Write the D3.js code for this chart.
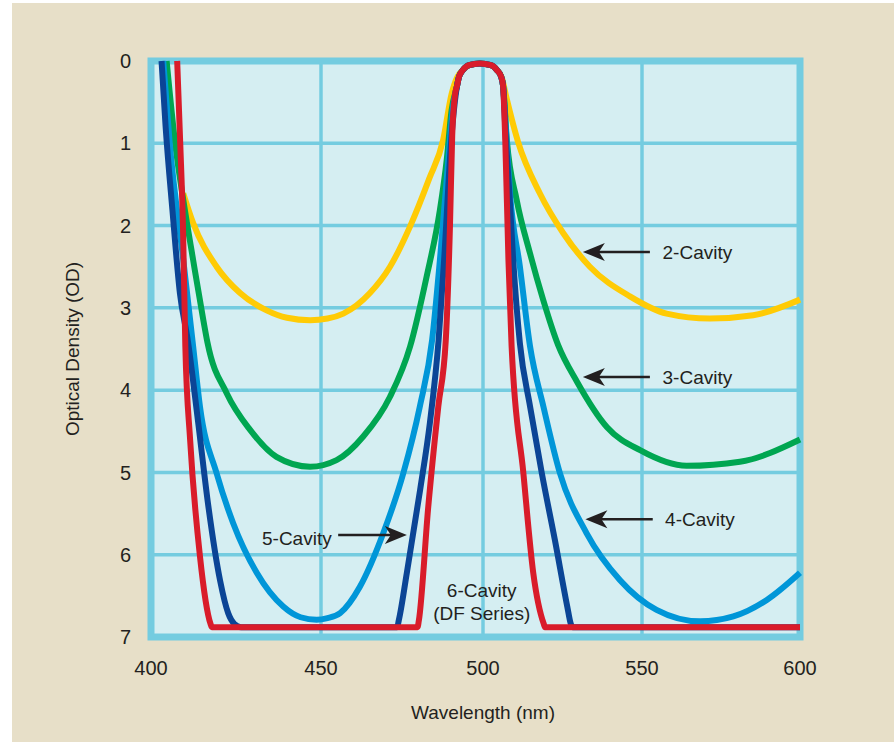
<!DOCTYPE html>
<html>
<head>
<meta charset="utf-8">
<script src="https://cdn.jsdelivr.net/npm/d3@7"></script>
<style>
  body { margin: 0; background: #fff; }
  svg { display: block; }
  text { font-family: "Liberation Sans", Arial, sans-serif; fill: #231f20; }
</style>
</head>
<body>
<div id="chart"></div>
<script>
var width = 894,
    height = 742;

// axis ticks
var xTicks = [400, 450, 500, 550, 600];
var yTicks = [0, 1, 2, 3, 4, 5, 6, 7];

// 2-cavity (yellow)
var cav2Nm = [409.5, 412.4, 419.3, 426.2, 434, 440, 446.8, 452, 456.9, 465.1, 471.3, 477.5, 483.4, 487.7, 490.3, 492.0, 493.8, 495.7, 499, 502.5, 504.4, 505.9, 507.4, 511, 517.9, 525.2, 533.6, 546.2, 557.8, 571.5, 585.2, 600];
var cav2Od = [1.61, 1.97, 2.5, 2.82, 3.03, 3.12, 3.15, 3.13, 3.07, 2.82, 2.5, 2.01, 1.43, 0.96, 0.4, 0.2, 0.11, 0.05, 0.03, 0.05, 0.11, 0.2, 0.45, 0.98, 1.61, 2.09, 2.5, 2.86, 3.07, 3.13, 3.09, 2.9];

// 3-cavity (green)
var cav3Nm = [404.6, 407.1, 409.5, 412.4, 415.4, 416.6, 422.3, 429.1, 436.9, 446.8, 454.8, 463.1, 471.3, 477.5, 482.6, 486.7, 488.8, 490.3, 492.0, 492.6, 493.8, 495.7, 499, 502.5, 504.4, 505.7, 506.3, 507.5, 510.6, 514.8, 518.9, 523.6, 529.6, 539.0, 549.4, 564.1, 581, 600];
var cav3Od = [0, 1.0, 1.69, 2.42, 3.15, 3.42, 4.04, 4.48, 4.81, 4.93, 4.85, 4.56, 4.08, 3.47, 2.62, 1.81, 1.2, 0.6, 0.3, 0.19, 0.11, 0.05, 0.03, 0.05, 0.11, 0.19, 0.3, 0.96, 1.69, 2.34, 2.9, 3.45, 3.9, 4.45, 4.73, 4.92, 4.87, 4.6];

// 4-cavity (light blue)
var cav4Nm = [403.6, 405.5, 409.5, 412.4, 414.4, 419.3, 424.2, 431.1, 438.9, 444, 448.7, 452, 455.9, 462, 469.2, 475.4, 480.5, 484.3, 486.7, 489.3, 490.6, 492.0, 492.6, 493.8, 495.7, 499, 502.5, 504.4, 505.7, 506.3, 507.4, 508.5, 511.6, 514.8, 519, 524.2, 532.6, 543.1, 554.6, 568.4, 578.9, 589.5, 600];
var cav4Od = [0, 1.0, 2.42, 3.47, 4.2, 5.01, 5.62, 6.22, 6.63, 6.76, 6.79, 6.77, 6.71, 6.39, 5.74, 5.01, 4.2, 3.39, 2.42, 1.2, 0.6, 0.3, 0.19, 0.11, 0.05, 0.03, 0.05, 0.11, 0.19, 0.3, 0.96, 1.61, 2.5, 3.47, 4.2, 5.01, 5.74, 6.31, 6.67, 6.81, 6.75, 6.55, 6.22];

// 5-cavity (dark blue)
var cav5Nm = [403.1, 404.3, 406.3, 408.5, 410.8, 413.9, 416.9, 420.3, 422.7, 424.5, 426.5, 428, 473.5, 474, 476.5, 480.6, 483.6, 486.3, 488, 490.2, 492.0, 492.6, 493.8, 495.7, 499, 502.5, 504.4, 505.7, 506.3, 507.2, 508.3, 509.5, 511.6, 514.8, 518.5, 522.6, 526.5, 527.6, 528.2, 600];
var cav5Od = [0, 0.8, 1.81, 2.82, 3.39, 4.4, 5.42, 6.31, 6.71, 6.84, 6.88, 6.88, 6.88, 6.8, 6.22, 5.21, 4.4, 3.39, 2.42, 0.96, 0.3, 0.19, 0.11, 0.05, 0.03, 0.05, 0.11, 0.19, 0.3, 0.96, 1.61, 2.42, 3.43, 4.2, 5.01, 5.82, 6.63, 6.84, 6.88, 6.88];

// 6-cavity, DF series (red)
var cav6Nm = [407.7, 408.6, 409.4, 410.1, 411.5, 414.4, 417.5, 417.9, 418.3, 479.4, 479.8, 480.2, 483.1, 486.2, 488.5, 489.8, 490.5, 491.4, 492.0, 492.6, 493.8, 495.7, 499, 502.5, 504.4, 505.7, 506.3, 507, 508, 509, 512.7, 515.8, 519.1, 519.5, 519.9, 600];
var cav6Od = [0, 1.0, 2.0, 3.47, 4.6, 6.02, 6.84, 6.88, 6.88, 6.88, 6.88, 6.8, 5.42, 4.2, 3.4, 2.01, 0.9, 0.4, 0.3, 0.19, 0.11, 0.05, 0.03, 0.05, 0.11, 0.19, 0.3, 0.96, 2.42, 3.47, 5.01, 6.22, 6.84, 6.88, 6.88, 6.88];

// annotations
var noteText = ["2-Cavity", "3-Cavity", "4-Cavity"];
var noteNm = [556.5, 556.5, 557.3];
var noteOd = [2.32, 3.84, 5.57];
var arrowTailNm = [552.5, 552.5, 553.4];
var arrowTipNm = [531.4, 531.4, 532.2];

var svg = d3.select("#chart")
    .append("svg")
    .attr("width", width)
    .attr("height", height);

// page background
svg.append("rect")
    .attr("x", 12).attr("y", 3)
    .attr("width", width - 12).attr("height", height - 3)
    .attr("fill", "#e7dfc8");

var x = d3.scaleLinear().domain(xTicks).range([151, 321, 483, 642, 800]);
var y = d3.scaleLinear().domain([0, 7]).range([61, 637]);

var grid = "#74cce0";

svg.append("rect")
    .attr("x", x(400)).attr("y", y(0))
    .attr("width", x(600) - x(400)).attr("height", y(7) - y(0))
    .attr("fill", "#d5eef2");

svg.append("g")
    .selectAll("line")
    .data(xTicks.slice(1, -1))
    .join("line")
    .attr("x1", d => x(d)).attr("x2", d => x(d))
    .attr("y1", y(0)).attr("y2", y(7))
    .attr("stroke", grid).attr("stroke-width", 3.5);

svg.append("g")
    .selectAll("line")
    .data(yTicks.slice(1, -1))
    .join("line")
    .attr("x1", x(400)).attr("x2", x(600))
    .attr("y1", d => y(d)).attr("y2", d => y(d))
    .attr("stroke", grid).attr("stroke-width", 3.5);

svg.append("rect")
    .attr("x", x(400)).attr("y", y(0))
    .attr("width", x(600) - x(400)).attr("height", y(7) - y(0))
    .attr("fill", "none")
    .attr("stroke", grid).attr("stroke-width", 7);

// tick labels
svg.append("g")
    .selectAll("text")
    .data(yTicks)
    .join("text")
    .attr("x", 131)
    .attr("y", d => y(d))
    .attr("dy", "0.36em")
    .attr("text-anchor", "end")
    .style("font-size", "20px")
    .text(d => d);

svg.append("g")
    .selectAll("text")
    .data(xTicks)
    .join("text")
    .attr("x", d => x(d))
    .attr("y", 675)
    .attr("text-anchor", "middle")
    .style("font-size", "20px")
    .text(d => d);

svg.append("text")
    .attr("x", x(500))
    .attr("y", 719)
    .attr("text-anchor", "middle")
    .style("font-size", "19px")
    .text("Wavelength (nm)");

svg.append("text")
    .attr("transform", `translate(79, ${(y(0) + y(7)) / 2}) rotate(-90)`)
    .attr("text-anchor", "middle")
    .style("font-size", "19px")
    .text("Optical Density (OD)");

// curves
var series = [
    { nm: cav2Nm, od: cav2Od, color: "#ffcb05" },
    { nm: cav3Nm, od: cav3Od, color: "#00a651" },
    { nm: cav4Nm, od: cav4Od, color: "#0096d8" },
    { nm: cav5Nm, od: cav5Od, color: "#0b4596" },
    { nm: cav6Nm, od: cav6Od, color: "#d91c2a" }
];

var line = d3.line()
    .x(d => x(d[0]))
    .y(d => y(d[1]))
    .curve(d3.curveMonotoneX);

svg.append("g")
    .selectAll("path")
    .data(series)
    .join("path")
    .attr("d", s => line(s.nm.map((v, i) => [v, s.od[i]])))
    .attr("fill", "none")
    .attr("stroke", s => s.color)
    .attr("stroke-width", 6)
    .attr("stroke-linejoin", "miter");

// arrows
function arrow(x1, x2, yy) {
    var dir = x2 < x1 ? 1 : -1;
    var g = svg.append("g");
    g.append("line")
        .attr("x1", x1).attr("x2", x2 + dir * 14)
        .attr("y1", yy).attr("y2", yy)
        .attr("stroke", "#231f20").attr("stroke-width", 2.5);
    g.append("path")
        .attr("d", `M${x2},${yy} L${x2 + dir * 22},${yy - 9} L${x2 + dir * 16},${yy} L${x2 + dir * 22},${yy + 9} Z`)
        .attr("fill", "#231f20");
}

noteText.forEach(function (t, i) {
    arrow(x(arrowTailNm[i]), x(arrowTipNm[i]), y(noteOd[i]));
    svg.append("text")
        .attr("x", x(noteNm[i]))
        .attr("y", y(noteOd[i]))
        .attr("dy", "0.36em")
        .style("font-size", "19px")
        .text(t);
});

arrow(x(455.3), x(476.5), y(5.76));
svg.append("text")
    .attr("x", x(453.3))
    .attr("y", y(5.8))
    .attr("dy", "0.36em")
    .attr("text-anchor", "end")
    .style("font-size", "19px")
    .text("5-Cavity");

svg.append("text")
    .attr("x", x(499.6))
    .attr("y", y(6.43))
    .attr("dy", "0.36em")
    .attr("text-anchor", "middle")
    .style("font-size", "19px")
    .text("6-Cavity");

svg.append("text")
    .attr("x", x(499.6))
    .attr("y", y(6.71))
    .attr("dy", "0.36em")
    .attr("text-anchor", "middle")
    .style("font-size", "19px")
    .text("(DF Series)");
</script>
</body>
</html>
